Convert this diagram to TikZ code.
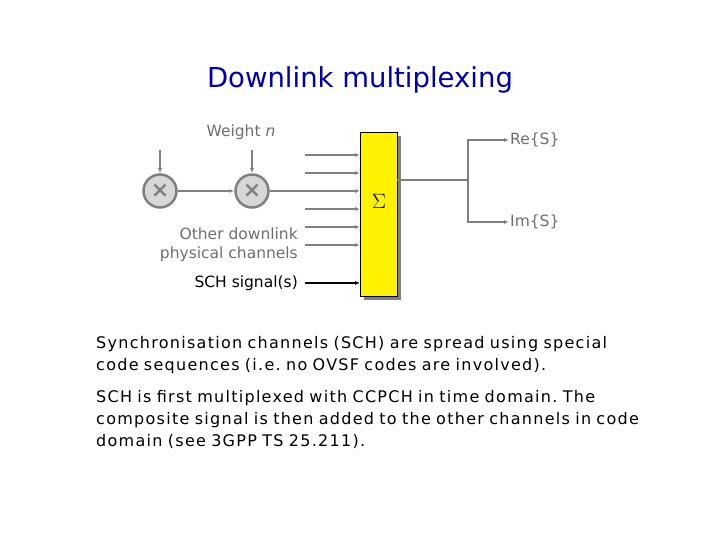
\documentclass[tikz,border=0pt]{standalone}
\usepackage{fontspec}
\setmainfont{DejaVu Sans}
\newfontfamily\bodyfont[LetterSpace=8]{DejaVu Sans}
\frenchspacing
\usetikzlibrary{positioning,arrows.meta}
\definecolor{linegray}{RGB}{128,128,128}
\definecolor{textgray}{RGB}{110,110,110}
\definecolor{titleblue}{RGB}{0,0,170}
\definecolor{mulgray}{RGB}{215,215,215}
\tikzset{
  sig/.style={draw=linegray,line width=1.6pt,-{Latex[length=5pt,width=4pt]}},
  mul/.style={circle,fill=mulgray,draw=linegray,line width=2.5pt,minimum size=33pt,inner sep=0pt,font=\fontsize{22}{22}\selectfont\bfseries,text=linegray},
  lbl/.style={text=textgray,font=\fontsize{15.5}{19}\selectfont,align=right,inner sep=1pt},
  body/.style={anchor=north west,align=left,text width=620pt,inner sep=0pt,font=\bodyfont\fontsize{16}{22}\selectfont}
}
\begin{document}
\begin{tikzpicture}[x=1pt,y=-1pt]
  \useasboundingbox (0,0) rectangle (720,540);
  \node[text=titleblue,font=\fontsize{27.5}{30}\selectfont] (title) at (360,80) {Downlink multiplexing};
  % sum block:
  \fill[linegray] (364,136) rectangle (401,300);
  \node[draw=black,fill=yellow,minimum width=37pt,minimum height=164pt,inner sep=0pt,anchor=north west] (sum) at (360,132) {};
  \node[font=\fontsize{20}{20}\selectfont] (sigma) at (379,201) {$\Sigma$};
  % multipliers:
  \node[mul] (m1) at (160,191) {×};
  \node[mul] (m2) at (252,191) {×};
  \coordinate (w1) at (160,150);
  \coordinate (w2) at (252,150);
  \draw[sig] (w1) -- (m1);
  \draw[sig] (w2) -- (m2);
  \draw[sig] (m1) -- (m2);
  \draw[sig] (m2) -- (m2 -| sum.west);
  \node[lbl] (weight) at (241,132) {Weight \textit{n}};
  % other inputs:
  \foreach \y in {155,173,209,227,245}
    \draw[sig] (305,\y) -- (360,\y);
  \node[lbl,anchor=east] (other) at (299,245) {Other downlink\\physical channels};
  \node[lbl,text=black,anchor=east] (sch) at (299,283) {SCH signal(s)};
  \draw[line width=1.6pt,-{Latex[length=5pt,width=4pt]}] (305,283) -- (305,283 -| sum.west);
  % outputs:
  \coordinate (split) at (468,180);
  \node[lbl,anchor=west] (re) at (509,140) {Re\{S\}};
  \node[lbl,anchor=west] (im) at (509,222) {Im\{S\}};
  \draw[draw=linegray,line width=1.6pt] (397,180) -- (split);
  \draw[sig] (split) |- (re.west);
  \draw[sig] (split) |- (im.west);
  % text:
  \node[body] (txt1) at (96,336)
    {Synchronisation channels (SCH) are spread using special\\code sequences (i.e. no OVSF codes are involved).};
  \node[body] (txt2) at (96,390)
    {SCH is first multiplexed with CCPCH in time domain. The\\composite signal is then added to the other channels in code\\domain (see 3GPP TS 25.211).};
\end{tikzpicture}
\end{document}
